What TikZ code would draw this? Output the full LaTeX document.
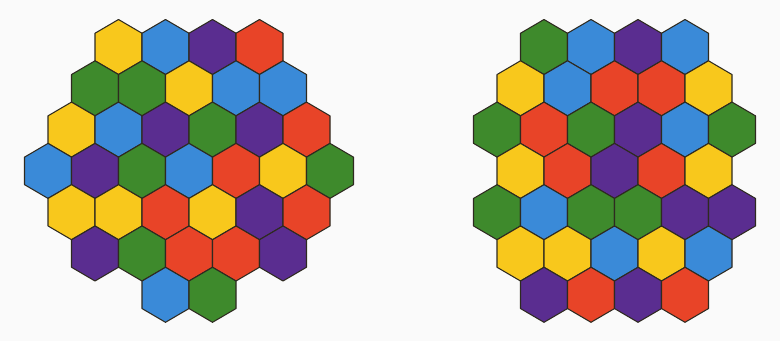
\documentclass[tikz,border=0pt]{standalone}
\usepackage{tikz}
\definecolor{hexyellow}{HTML}{F8C81C}
\definecolor{hexblue}{HTML}{3A8AD8}
\definecolor{hexpurple}{HTML}{5A2D90}
\definecolor{hexgreen}{HTML}{3E8A2C}
\definecolor{hexred}{HTML}{E84428}
\definecolor{hexedge}{HTML}{2E2A20}
\newcommand{\hexcell}[3]{\filldraw[fill=#3,draw=hexedge,line width=0.9pt,line join=round] (#1,#2) ++(0,-27.5) -- ++(23.5,13.75) -- ++(0,27.5) -- ++(-23.5,13.75) -- ++(-23.5,-13.75) -- ++(0,-27.5) -- cycle;}

\begin{document}
\begin{tikzpicture}[x=0.03cm,y=-0.03cm]
    \fill[white!98!black] (0,0) rectangle (780,341);
    \useasboundingbox (0,0) rectangle (780,341);
    % left board
    \foreach \k/\c in {3/hexyellow,5/hexblue,7/hexpurple,9/hexred}
      \hexcell{48+\k*23.5}{47}{\c};
    \foreach \k/\c in {2/hexgreen,4/hexgreen,6/hexyellow,8/hexblue,10/hexblue}
      \hexcell{48+\k*23.5}{88.3}{\c};
    \foreach \k/\c in {1/hexyellow,3/hexblue,5/hexpurple,7/hexgreen,9/hexpurple,11/hexred}
      \hexcell{48+\k*23.5}{129.6}{\c};
    \foreach \k/\c in {0/hexblue,2/hexpurple,4/hexgreen,6/hexblue,8/hexred,10/hexyellow,12/hexgreen}
      \hexcell{48+\k*23.5}{170.9}{\c};
    \foreach \k/\c in {1/hexyellow,3/hexyellow,5/hexred,7/hexyellow,9/hexpurple,11/hexred}
      \hexcell{48+\k*23.5}{212.2}{\c};
    \foreach \k/\c in {2/hexpurple,4/hexgreen,6/hexred,8/hexred,10/hexpurple}
      \hexcell{48+\k*23.5}{253.5}{\c};
    \foreach \k/\c in {5/hexblue,7/hexgreen}
      \hexcell{48+\k*23.5}{294.8}{\c};
    % right board
    \foreach \k/\c in {2/hexgreen,4/hexblue,6/hexpurple,8/hexblue}
      \hexcell{497+\k*23.5}{47}{\c};
    \foreach \k/\c in {1/hexyellow,3/hexblue,5/hexred,7/hexred,9/hexyellow}
      \hexcell{497+\k*23.5}{88.3}{\c};
    \foreach \k/\c in {0/hexgreen,2/hexred,4/hexgreen,6/hexpurple,8/hexblue,10/hexgreen}
      \hexcell{497+\k*23.5}{129.6}{\c};
    \foreach \k/\c in {1/hexyellow,3/hexred,5/hexpurple,7/hexred,9/hexyellow}
      \hexcell{497+\k*23.5}{170.9}{\c};
    \foreach \k/\c in {0/hexgreen,2/hexblue,4/hexgreen,6/hexgreen,8/hexpurple,10/hexpurple}
      \hexcell{497+\k*23.5}{212.2}{\c};
    \foreach \k/\c in {1/hexyellow,3/hexyellow,5/hexblue,7/hexyellow,9/hexblue}
      \hexcell{497+\k*23.5}{253.5}{\c};
    \foreach \k/\c in {2/hexpurple,4/hexred,6/hexpurple,8/hexred}
      \hexcell{497+\k*23.5}{294.8}{\c};
\end{tikzpicture}
\end{document}
